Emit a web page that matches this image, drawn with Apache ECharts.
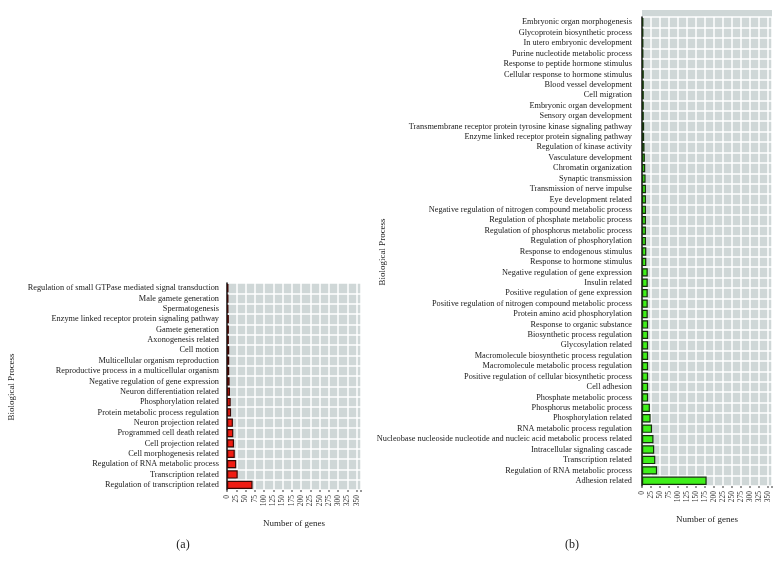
<!DOCTYPE html>
<html><head><meta charset="utf-8">
<script src="https://cdn.jsdelivr.net/npm/echarts@6/dist/echarts.min.js"></script>
<style>html,body{margin:0;padding:0;background:#fff}#c{width:782px;height:570px}</style>
</head><body><div id="c"></div>
<script>
const leftCategories = [
  "Regulation of small GTPase mediated signal transduction",
  "Male gamete generation",
  "Spermatogenesis",
  "Enzyme linked receptor protein signaling pathway",
  "Gamete generation",
  "Axonogenesis related",
  "Cell motion",
  "Multicellular organism reproduction",
  "Reproductive process in a multicellular organism",
  "Negative regulation of gene expression",
  "Neuron differentiation related",
  "Phosphorylation related",
  "Protein metabolic process regulation",
  "Neuron projection related",
  "Programmed cell death related",
  "Cell projection related",
  "Cell morphogenesis related",
  "Regulation of RNA metabolic process",
  "Transcription related",
  "Regulation of transcription related"
];
const leftValues = [4,4,4,5,5,5,6,6,6,7,8,10,11,16,17,19,21,25,29,69];

const rightCategories = [
  "Embryonic organ morphogenesis",
  "Glycoprotein biosynthetic process",
  "In utero embryonic development",
  "Purine nucleotide metabolic process",
  "Response to peptide hormone stimulus",
  "Cellular response to hormone stimulus",
  "Blood vessel development",
  "Cell migration",
  "Embryonic organ development",
  "Sensory organ development",
  "Transmembrane receptor protein tyrosine kinase signaling pathway",
  "Enzyme linked receptor protein signaling pathway",
  "Regulation of kinase activity",
  "Vasculature development",
  "Chromatin organization",
  "Synaptic transmission",
  "Transmission of nerve impulse",
  "Eye development related",
  "Negative regulation of nitrogen compound metabolic process",
  "Regulation of phosphate metabolic process",
  "Regulation of phosphorus metabolic process",
  "Regulation of phosphorylation",
  "Response to endogenous stimulus",
  "Response to hormone stimulus",
  "Negative regulation of gene expression",
  "Insulin related",
  "Positive regulation of gene expression",
  "Positive regulation of nitrogen compound metabolic process",
  "Protein amino acid phosphorylation",
  "Response to organic substance",
  "Biosynthetic process regulation",
  "Glycosylation related",
  "Macromolecule biosynthetic process regulation",
  "Macromolecule metabolic process regulation",
  "Positive regulation of cellular biosynthetic process",
  "Cell adhesion",
  "Phosphate metabolic process",
  "Phosphorus metabolic process",
  "Phosphorylation related",
  "RNA metabolic process regulation",
  "Nucleobase nucleoside nucleotide and nucleic acid metabolic process related",
  "Intracellular signaling cascade",
  "Transcription related",
  "Regulation of RNA metabolic process",
  "Adhesion related"
];
const rightValues = [4,4,4,4,4,5,5,5,5,5,6,6,7,8,9,10,11,11,11,11,11,11,12,12,16,16,16,16,16,17,17,17,17,17,17,17,17,22,24,28,32,34,37,42,180];

const xMin = 0, xMax = 362, xInterval = 25;
const panelLabels = ["(a)", "(b)"];
const yTitle = "Biological Process";
const xTitle = "Number of genes";

const FONT = "Liberation Serif";
const BG = '#cfd7d7';
const chart = echarts.init(document.getElementById('c'));

function xAxisCfg(gi) {
  return {
    gridIndex: gi, type: 'value', min: xMin, max: xMax, interval: xInterval,
    name: xTitle, nameLocation: 'middle', nameGap: 29,
    nameTextStyle: {fontFamily: FONT, fontSize: 9, color: '#222'},
    axisLine: {show: false},
    axisTick: {show: true, length: 2, lineStyle: {color: '#777', width: 1.5}},
    axisLabel: {rotate: 90, fontFamily: FONT, fontSize: 7.5, color: '#333', margin: 5,
      formatter: v => (v > 350 ? '' : v)},
    splitLine: {show: true, lineStyle: {color: '#ffffff', width: 1.5}}
  };
}
function yAxisCfg(gi, cats, margin) {
  return {
    gridIndex: gi, type: 'category', data: cats, inverse: true,
    axisLine: {show: true, lineStyle: {color: '#111', width: 1.5}},
    axisTick: {show: false},
    axisLabel: {fontFamily: FONT, fontSize: 8.3, color: '#1a1a1a', margin: margin, interval: 0},
    splitLine: {show: true, interval: 0, lineStyle: {color: '#ffffff', width: 1.5}}
  };
}

chart.setOption({
  animation: false,
  backgroundColor: '#ffffff',
  grid: [
    {left: 227, right: 421, top: 283, bottom: 80, show: true, backgroundColor: BG, borderWidth: 0},
    {left: 642, right: 10, top: 17, bottom: 84, show: true, backgroundColor: BG, borderWidth: 0}
  ],
  xAxis: [xAxisCfg(0), xAxisCfg(1)],
  yAxis: [yAxisCfg(0, leftCategories, 8), yAxisCfg(1, rightCategories, 10)],
  series: [
    {type: 'bar', xAxisIndex: 0, yAxisIndex: 0, data: leftValues, barCategoryGap: '20%',
      itemStyle: {color: '#f01c12', borderColor: '#3a0704', borderWidth: 1.2}},
    {type: 'bar', xAxisIndex: 1, yAxisIndex: 1, data: rightValues, barCategoryGap: '20%',
      itemStyle: {color: '#3ff01a', borderColor: '#15300c', borderWidth: 1.2}}
  ],
  graphic: [
    {type: 'rect', z: -1, shape: {x: 642, y: 10, width: 130, height: 8}, style: {fill: BG}},
    {type: 'text', x: 12, y: 387, rotation: Math.PI / 2,
      style: {text: yTitle, font: '9px "Liberation Serif"', fill: '#222', align: 'center', verticalAlign: 'middle'}},
    {type: 'text', x: 383, y: 252, rotation: Math.PI / 2,
      style: {text: yTitle, font: '9px "Liberation Serif"', fill: '#222', align: 'center', verticalAlign: 'middle'}},
    {type: 'text', x: 183, y: 545,
      style: {text: panelLabels[0], font: '12px "Liberation Serif"', fill: '#222', align: 'center', verticalAlign: 'middle'}},
    {type: 'text', x: 572, y: 545,
      style: {text: panelLabels[1], font: '12px "Liberation Serif"', fill: '#222', align: 'center', verticalAlign: 'middle'}}
  ]
});
</script>
</body></html>
